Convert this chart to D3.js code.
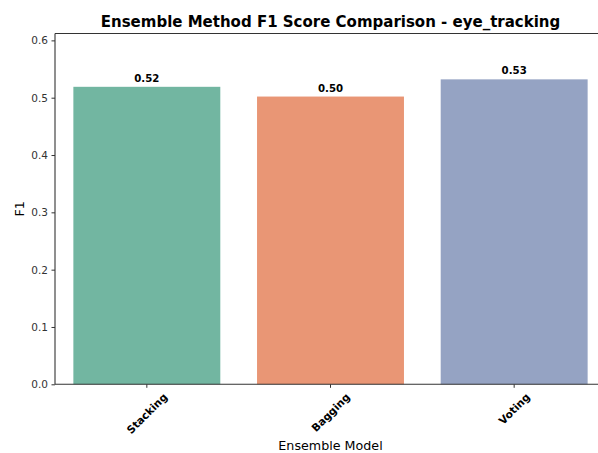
<!DOCTYPE html>
<html>
<head>
<meta charset="utf-8">
<script src="https://cdn.jsdelivr.net/npm/d3@7"></script>
<style>
  html, body { margin: 0; padding: 0; background: #fff; }
  svg { display: block; font-family: "DejaVu Sans", sans-serif; }
</style>
</head>
<body>
<svg id="chart" width="598" height="453"></svg>
<script>
// Ensemble models and their F1 scores
const models = ["Stacking", "Bagging", "Voting"];
const f1Scores = [0.519, 0.502, 0.532];
const barColors = ["#72b6a1", "#e99675", "#95a3c3"];
const yTicks = [0.0, 0.1, 0.2, 0.3, 0.4, 0.5, 0.6];

const svg = d3.select("#chart");
const plotLeft = 55, plotRight = 606, plotTop = 33.5, plotBottom = 384.3;

const x = d3.scaleBand().domain(models).range([plotLeft, plotRight]).paddingInner(0.2).paddingOuter(0.1);
const y = d3.scaleLinear().domain([0, 0.612]).range([plotBottom, plotTop]);

// Bars
svg.append("g").selectAll("rect").data(models).join("rect")
  .attr("x", d => x(d))
  .attr("width", x.bandwidth())
  .attr("y", (d, i) => y(f1Scores[i]))
  .attr("height", (d, i) => y(0) - y(f1Scores[i]))
  .attr("fill", (d, i) => barColors[i]);

// Value labels
svg.append("g").selectAll("text").data(models).join("text")
  .attr("x", d => x(d) + x.bandwidth() / 2)
  .attr("y", (d, i) => y(f1Scores[i]) - 5)
  .attr("text-anchor", "middle")
  .attr("font-size", 10.2)
  .attr("font-weight", "bold")
  .attr("fill", "#000")
  .text((d, i) => f1Scores[i].toFixed(2));

// Y axis
const yAxis = svg.append("g").attr("transform", `translate(${plotLeft},0)`)
  .call(d3.axisLeft(y).tickValues(yTicks).tickFormat(d3.format(".1f")).tickSize(3.5).tickPadding(3.5));
yAxis.select(".domain").remove();
yAxis.selectAll(".tick line").attr("stroke", "#333");
yAxis.selectAll(".tick text").attr("font-size", 10.5).attr("fill", "#333").attr("font-family", "DejaVu Sans, sans-serif");

// X axis: labels rotated 45 degrees, centred below each tick
const xAxis = svg.append("g").attr("transform", `translate(0,${plotBottom})`)
  .call(d3.axisBottom(x).tickSize(3.5).tickPadding(3));
xAxis.select(".domain").remove();
xAxis.selectAll(".tick line").attr("stroke", "#333");
const xFont = 10.6;
xAxis.selectAll(".tick text")
  .attr("font-size", xFont)
  .attr("font-weight", "bold")
  .attr("fill", "#000")
  .attr("font-family", "DejaVu Sans, sans-serif")
  .attr("text-anchor", "middle")
  .attr("dominant-baseline", "central")
  .attr("y", 0).attr("dy", null)
  .attr("transform", function() {
    const len = this.getComputedTextLength();
    const half = (len + xFont * 1.1) * Math.SQRT1_2 / 2;
    return `translate(0,${3.5 + 3 + half}) rotate(-45)`;
  });

// Spines
const spine = svg.append("g").attr("stroke", "#333").attr("stroke-width", 1.1).attr("fill", "none");
spine.append("line").attr("x1", plotLeft).attr("x2", plotLeft).attr("y1", plotTop).attr("y2", plotBottom);
spine.append("line").attr("x1", plotLeft).attr("x2", plotRight).attr("y1", plotBottom).attr("y2", plotBottom);
spine.append("line").attr("x1", plotLeft).attr("x2", plotRight).attr("y1", plotTop).attr("y2", plotTop);
spine.append("line").attr("x1", plotRight).attr("x2", plotRight).attr("y1", plotTop).attr("y2", plotBottom);

// Title and axis labels
svg.append("text")
  .attr("x", (plotLeft + plotRight) / 2).attr("y", 27)
  .attr("text-anchor", "middle")
  .attr("font-size", 15).attr("font-weight", "bold")
  .text("Ensemble Method F1 Score Comparison - eye_tracking");

svg.append("text")
  .attr("x", (plotLeft + plotRight) / 2).attr("y", 450)
  .attr("text-anchor", "middle")
  .attr("font-size", 12.7)
  .text("Ensemble Model");

svg.append("text")
  .attr("transform", `translate(24,${(plotTop + plotBottom) / 2}) rotate(-90)`)
  .attr("text-anchor", "middle")
  .attr("font-size", 12.7)
  .text("F1");
</script>
</body>
</html>
